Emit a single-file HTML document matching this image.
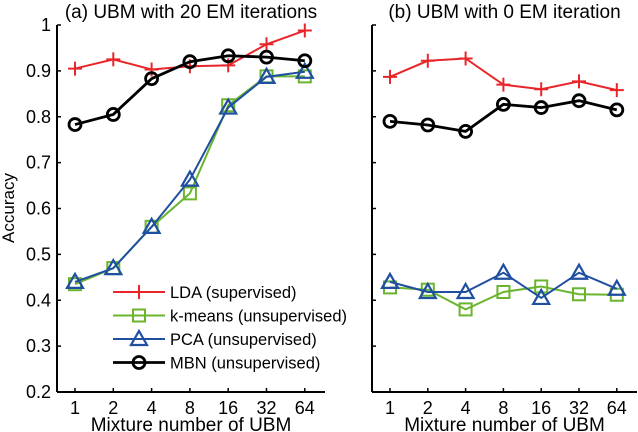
<!DOCTYPE html>
<html><head><meta charset="utf-8"><style>
body{margin:0;background:#fff}
svg{display:block;font-family:"Liberation Sans",sans-serif}
</style></head><body>
<svg id="c" width="638" height="432"></svg>
<script>
const categories=["1","2","4","8","16","32","64"];
const yTicks=[0.2,0.3,0.4,0.5,0.6,0.7,0.8,0.9,1];
const yTickLabels=["0.2","0.3","0.4","0.5","0.6","0.7","0.8","0.9","1"];
const ldaA=[0.905,0.925,0.903,0.91,0.912,0.958,0.988];
const kmA=[0.435,0.47,0.56,0.633,0.825,0.888,0.888];
const pcaA=[0.44,0.47,0.56,0.663,0.82,0.887,0.898];
const mbnA=[0.783,0.805,0.883,0.92,0.933,0.93,0.922];
const ldaB=[0.887,0.922,0.927,0.87,0.86,0.877,0.858];
const kmB=[0.428,0.423,0.38,0.418,0.43,0.413,0.412];
const pcaB=[0.44,0.418,0.418,0.46,0.405,0.46,0.425];
const mbnB=[0.79,0.782,0.768,0.827,0.82,0.835,0.815];
const NS="http://www.w3.org/2000/svg";
const svg=document.getElementById('c');
function el(t,a,p){const e=document.createElementNS(NS,t);for(const k in a)e.setAttribute(k,a[k]);(p||svg).appendChild(e);return e;}
const y=v=>392-(v-0.2)/0.8*367;
function panel(x0,xEnd,x1,dx,showLabels,title,series,name){
  const g=el('g',{});
  
  
  const x=i=>x1+i*dx;
  el('line',{x1:x0,y1:y(1),x2:x0,y2:392,stroke:'#000','stroke-width':2},g);
  el('line',{x1:x0,y1:392,x2:xEnd,y2:392,stroke:'#000','stroke-width':2},g);
  yTicks.forEach((v,i)=>{
    el('line',{x1:x0,y1:y(v),x2:x0+4,y2:y(v),stroke:'#000','stroke-width':1.5},g);
    if(showLabels){const t=el('text',{x:x0-6,y:y(v)+6,'text-anchor':'end','font-size':18},g);t.textContent=yTickLabels[i];
      }
  });
  categories.forEach((c,i)=>{
    el('line',{x1:x(i),y1:392,x2:x(i),y2:388,stroke:'#000','stroke-width':1.5},g);
    const t=el('text',{x:x(i),y:414,'text-anchor':'middle','font-size':18},g);t.textContent=c;
    
  });
  const xl=el('text',{x:(x0+xEnd)/2,y:431,'text-anchor':'middle','font-size':19},g);xl.textContent='Mixture number of UBM';
  
  const tt=el('text',{x:(x0+xEnd)/2,y:18,'text-anchor':'middle','font-size':19},g);tt.textContent=title;
  
  series.forEach(s=>{
    const pl=el('polyline',{points:s.d.map((v,i)=>x(i)+','+y(v)).join(' '),fill:'none',stroke:s.c,'stroke-width':s.w},g);
    
    s.d.forEach((v,i)=>marker(s.m,x(i),y(v),s.c,g));
  });
}
function marker(m,cx,cy,c,g){
  let e;
  if(m==='+'){e=el('path',{d:`M${cx-7} ${cy}H${cx+7}M${cx} ${cy-7}V${cy+7}`,stroke:c,'stroke-width':2,fill:'none'},g);}
  else if(m==='s'){e=el('rect',{x:cx-6,y:cy-6,width:12,height:12,stroke:c,'stroke-width':2,fill:'none'},g);}
  else if(m==='t'){e=el('path',{d:`M${cx} ${cy-8}L${cx+8} ${cy+6}L${cx-8} ${cy+6}Z`,stroke:c,'stroke-width':2.2,fill:'none'},g);}
  else {e=el('circle',{cx:cx,cy:cy,r:6,stroke:c,'stroke-width':2.8,fill:'none'},g);}
  
  
}
const R='#e8262a',G='#6ab52e',B='#1f4fa0',K='#000';
panel(57,325,75,38.3,true,'(a) UBM with 20 EM iterations',[
  {d:ldaA,c:R,m:'+',w:2,n:'lda'},{d:kmA,c:G,m:'s',w:2,n:'kmeans'},{d:pcaA,c:B,m:'t',w:2,n:'pca'},{d:mbnA,c:K,m:'o',w:2.8,n:'mbn'}],'panel-a');
panel(372,637,390,37.8,false,'(b) UBM with 0 EM iteration',[
  {d:ldaB,c:R,m:'+',w:2,n:'lda'},{d:kmB,c:G,m:'s',w:2,n:'kmeans'},{d:pcaB,c:B,m:'t',w:2,n:'pca'},{d:mbnB,c:K,m:'o',w:2.8,n:'mbn'}],'panel-b');
const yl=el('text',{x:14,y:208,'text-anchor':'middle','font-size':17,transform:'rotate(-90 14 208)'});yl.textContent='Accuracy';

const leg=[['LDA (supervised)',R,'+',2],['k-means (unsupervised)',G,'s',2],['PCA (unsupervised)',B,'t',2],['MBN (unsupervised)',K,'o',2.8]];
leg.forEach((l,i)=>{
  const g=el('g',{});
  
  
  const ly=292+i*23.5;
  el('line',{x1:113,y1:ly,x2:165,y2:ly,stroke:l[1],'stroke-width':l[3]},g);
  marker(l[2],139,ly,l[1],g);
  const t=el('text',{x:170,y:ly+6,'font-size':16.5},g);t.textContent=l[0];
});
</script>
</body></html>
